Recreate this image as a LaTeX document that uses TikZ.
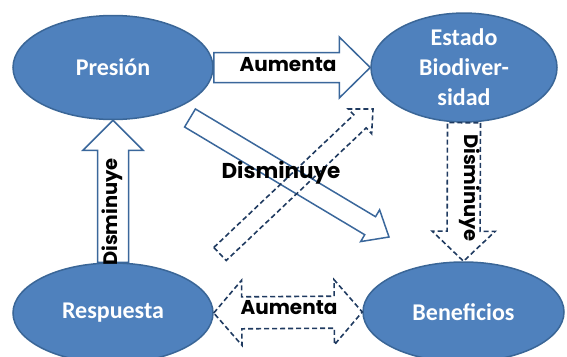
\documentclass[tikz,border=0pt]{standalone}
\usepackage{fontspec}
\setmainfont{Carlito}
\newfontfamily\labfont{Poppins}
\usetikzlibrary{shapes.geometric,calc}
\definecolor{ellfill}{HTML}{4F81BD}
\definecolor{elldraw}{HTML}{3A6697}
\definecolor{arrsolid}{HTML}{3A679B}
\definecolor{arrdash}{HTML}{1F3A60}
% style, from, to, shaft half width, head half width, head length
\newcommand\blockarr[6]{%
  \coordinate (bac) at ($(#3)!#6!(#2)$);
  \draw[#1] ($(#2)!#4!90:(#3)$) -- ($(bac)!#4!90:(#3)$) -- ($(bac)!#5!90:(#3)$)
    -- (#3) -- ($(bac)!#5!-90:(#3)$) -- ($(bac)!#4!-90:(#3)$) -- ($(#2)!#4!-90:(#3)$) -- cycle;}
\newcommand\dblarr[6]{%
  \coordinate (dbc1) at ($(#2)!#6!(#3)$);
  \coordinate (dbc2) at ($(#3)!#6!(#2)$);
  \draw[#1] (#2) -- ($(dbc1)!#5!90:(#3)$) -- ($(dbc1)!#4!90:(#3)$) -- ($(dbc2)!#4!90:(#3)$)
    -- ($(dbc2)!#5!90:(#3)$) -- (#3) -- ($(dbc2)!#5!-90:(#3)$) -- ($(dbc2)!#4!-90:(#3)$)
    -- ($(dbc1)!#4!-90:(#3)$) -- ($(dbc1)!#5!-90:(#3)$) -- cycle;}
\tikzset{
  ell/.style={ellipse, draw=elldraw, line width=1.5pt, fill=ellfill, inner sep=0pt,
    text=white, font=\fontsize{24}{30}\selectfont\bfseries, align=center},
  solidarr/.style={draw=arrsolid, line width=1.5pt, line join=miter, fill=white},
  solidarrnf/.style={draw=arrsolid, line width=1.5pt, line join=miter},
  dasharr/.style={draw=arrdash, line width=1.6pt, dash pattern=on 5pt off 3pt, line join=miter},
  lab/.style={font=\labfont\fontsize{20}{22}\selectfont\bfseries, text=black, inner sep=0pt},
  labbig/.style={lab, font=\labfont\fontsize{21.5}{22}\selectfont\bfseries},
  labv/.style={lab, font=\labfont\fontsize{19.5}{22}\selectfont\bfseries}
}
\begin{document}
\begin{tikzpicture}[x=1pt,y=-1pt]
\useasboundingbox (0,0) rectangle (567,356);
\clip (0,0) rectangle (567,356);
\node[ell, minimum width=200pt, minimum height=104pt] (pres) at (113,67.5) {Presión};
\node[ell, minimum width=186pt, minimum height=104pt] (est) at (464,67.5) {Estado\\Biodiver-\\sidad};
\node[ell, minimum width=200pt, minimum height=100pt] (resp) at (113,313) {Respuesta};
\node[ell, minimum width=201pt, minimum height=100pt] (ben) at (463.5,312) {Beneficios};
% free ends of the diagonal arrows
\coordinate (d1s) at (190,118);
\coordinate (d1e) at (389,237);
\coordinate (d2s) at (220,254);
\coordinate (d2e) at (373,109);
% arrows
\blockarr{solidarr}{pres.east}{est.west}{15pt}{30.5pt}{31pt}
\blockarr{solidarr}{resp.north}{pres.south}{15.5pt}{30pt}{30pt}
\blockarr{solidarrnf}{d1s}{d1e}{10.5pt}{18.5pt}{22pt}
\blockarr{dasharr}{d2s}{d2e}{9pt}{17pt}{18pt}
\blockarr{dasharr}{est.south}{ben.north}{16.5pt}{31.5pt}{30pt}
\dblarr{dasharr}{resp.east}{ben.west}{16pt}{32.5pt}{28pt}
% labels
\node[lab] (l1) at (288,65) {Aumenta};
\node[lab] (l2) at (289,308) {Aumenta};
\node[labbig] (l3) at (281,173) {Disminuye};
\node[labv, rotate=90] (l4) at (112,212) {Disminuye};
\node[labv, rotate=-90] (l5) at (470,188) {Disminuye};
\end{tikzpicture}
\end{document}
